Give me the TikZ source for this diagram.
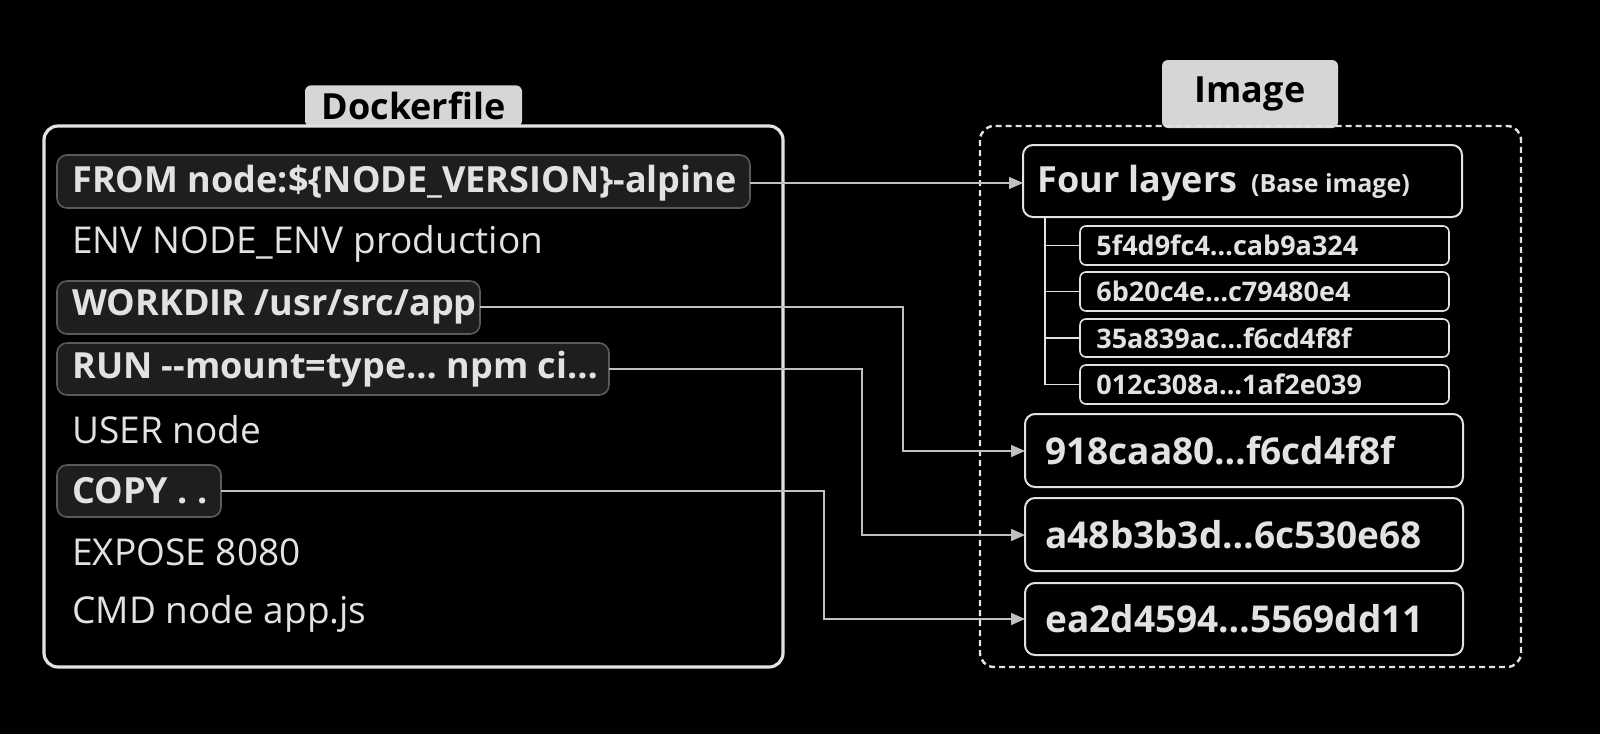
\documentclass[tikz,border=0pt]{standalone}
\usepackage{fontspec}
\setmainfont{Open Sans}
\usetikzlibrary{arrows.meta}
\definecolor{lite}{HTML}{E2E2E2}
\definecolor{tab}{HTML}{D6D6D6}
\definecolor{hl}{HTML}{1E1E1E}
\definecolor{hlb}{HTML}{5A5A5A}
\begin{document}
\begin{tikzpicture}[x=0.5pt,y=-0.5pt,
  txt/.style={text=lite,anchor=west,font=\fontsize{18.5}{22}\selectfont,inner sep=0},
  btxt/.style={txt,font=\fontsize{18}{22}\selectfont\bfseries},
  hlbox/.style={draw=hlb,fill=hl,rounded corners=5pt,line width=0.8pt},
  tabn/.style={fill=tab,rounded corners=3pt,font=\fontsize{18}{22}\selectfont\bfseries,text=black},
  lbox/.style={draw=lite,rounded corners=5pt,line width=1pt},
  conn/.style={draw=lite!85!black,line width=0.8pt,-{Triangle[length=7pt,width=6pt]}}]
\fill[black] (0,0) rectangle (1600,734);
\useasboundingbox (0,0) rectangle (1600,734);
% Dockerfile
\node[tabn,minimum width=108.5pt,minimum height=20pt] (dtab) at (413.5,106) {Dockerfile};
\draw[draw=lite,line width=1.6pt,rounded corners=7pt] (44,126) rectangle (783,667);
\path[hlbox] (57,155) rectangle (750,208);
\path[hlbox] (57,281) rectangle (480,334);
\path[hlbox] (57,343) rectangle (609,395);
\path[hlbox] (57,465) rectangle (221,517);
\coordinate (fromE) at (750,183);
\coordinate (workE) at (480,307);
\coordinate (runE) at (609,369);
\coordinate (copyE) at (221,491);
\node[btxt] (from) at (72,183) {FROM node:\$\{NODE\_VERSION\}-alpine};
\node[txt] (env) at (72,244) {ENV NODE\_ENV production};
\node[btxt] (work) at (72,307) {WORKDIR /usr/src/app};
\node[btxt] (run) at (72,369) {RUN {-}{-}mount=type… npm ci…};
\node[txt] (user) at (72,430) {USER node};
\node[btxt] (copy) at (72,491) {COPY . .};
\node[txt] (expose) at (72,552) {EXPOSE 8080};
\node[txt] (cmd) at (72,614) {CMD node app.js};
% Image
\node[tabn,minimum width=88pt,minimum height=34pt] (itab) at (1250,94) {Image};
\draw[draw=lite,line width=1.2pt,dash pattern=on 3pt off 2pt,rounded corners=7pt] (980,126) rectangle (1521,667);
\draw[lbox] (1023,145) rectangle (1462,217);
\coordinate (fourW) at (1023,183);
\node[btxt] (four) at (1037,183) {Four layers \fontsize{12.5}{15}\selectfont\,(Base image)};
\foreach \i/\a/\b/\h in {1/226/265/5f4d9fc4…cab9a324,2/272/311/6b20c4e…c79480e4,3/319/357/35a839ac…f6cd4f8f,4/365/404/012c308a…1af2e039}{
  \draw[lbox,line width=0.8pt,rounded corners=3pt] (1080,\a) rectangle (1449,\b);
  \node[txt,font=\fontsize{13.5}{16}\selectfont\bfseries] (s\i) at (1096,{(\a+\b)/2}) {\h};
  \draw[lite,line width=0.8pt] (1045,{(\a+\b)/2}) -- (1080,{(\a+\b)/2});
}
\draw[lite,line width=0.8pt] (1045,217) -- (1045,384.5);
\draw[lbox] (1025,414) rectangle (1463,487);
\draw[lbox] (1025,498) rectangle (1463,571);
\draw[lbox] (1025,583) rectangle (1463,655);
\coordinate (l1W) at (1025,451);
\coordinate (l2W) at (1025,535);
\coordinate (l3W) at (1025,619);
\node[btxt,font=\fontsize{18.5}{22}\selectfont\bfseries] (l1) at (1045,451) {918caa80…f6cd4f8f};
\node[btxt,font=\fontsize{18.5}{22}\selectfont\bfseries] (l2) at (1045,535) {a48b3b3d…6c530e68};
\node[btxt,font=\fontsize{18.5}{22}\selectfont\bfseries] (l3) at (1045,619) {ea2d4594…5569dd11};
% connectors
\draw[conn] (fromE) -- (fourW);
\draw[conn] (workE) -| (903,451) -- (l1W);
\draw[conn] (runE) -| (862,535) -- (l2W);
\draw[conn] (copyE) -| (824,619) -- (l3W);
\end{tikzpicture}
\end{document}
